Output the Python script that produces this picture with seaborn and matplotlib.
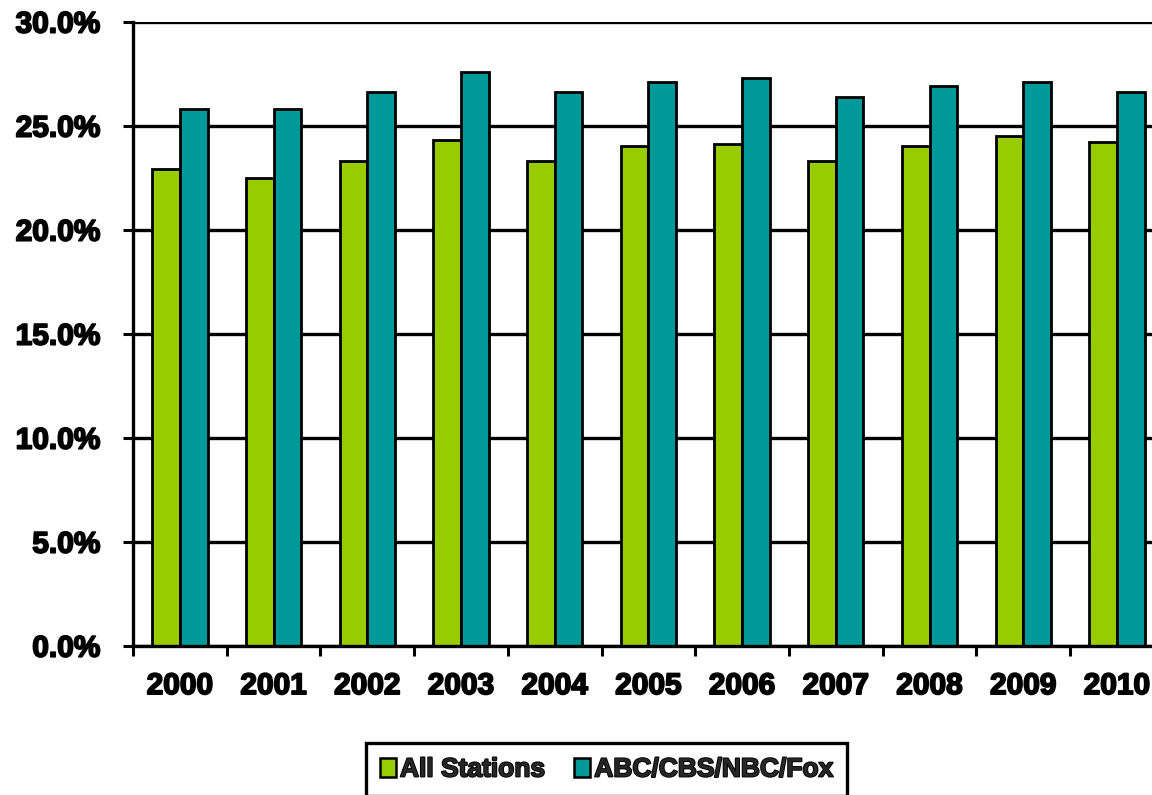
import matplotlib
matplotlib.use("Agg")
import matplotlib.pyplot as plt
import matplotlib.patheffects as pe
from matplotlib.patches import Patch
import seaborn as sns
import pandas as pd
import numpy as np

years = ["2000", "2001", "2002", "2003", "2004", "2005",
         "2006", "2007", "2008", "2009", "2010"]
all_stations = [22.9, 22.5, 23.3, 24.3, 23.3, 24.0, 24.1, 23.3, 24.0, 24.5, 24.2]
big_four = [25.8, 25.8, 26.6, 27.6, 26.6, 27.1, 27.3, 26.4, 26.9, 27.1, 26.6]
series_names = ["All Stations", "ABC/CBS/NBC/Fox"]
colors = ["#99CC00", "#009999"]

df = pd.DataFrame({
    "year": years * 2,
    "share": all_stations + big_four,
    "series": [series_names[0]] * len(years) + [series_names[1]] * len(years),
})

sns.set_style("white")
plt.rcParams["font.family"] = ["Liberation Sans", "DejaVu Sans"]
plt.rcParams["font.weight"] = "bold"

fig = plt.figure(figsize=(11.52, 7.95), dpi=100)
ax = fig.add_axes([0.1155, 0.1878, 0.8947, 0.785])

sns.barplot(data=df, x="year", y="share", hue="series", order=years,
            hue_order=series_names, palette=colors, width=0.59, gap=0,
            edgecolor="black", linewidth=2.0, saturation=1, ax=ax,
            legend=False)

ax.set_ylim(0, 30)
ax.set_xlim(-0.5, len(years) - 0.5)
yt = np.arange(0, 31, 5)
ax.set_yticks(yt)
ax.set_yticklabels([f"{v:.1f}%" for v in yt])
ax.yaxis.grid(True, color="black", linewidth=2.4)
ax.xaxis.grid(False)
ax.set_axisbelow(True)

ax.set_xlabel("")
ax.set_ylabel("")

for side in ["top", "right"]:
    ax.spines[side].set_visible(False)
for side in ["left", "bottom"]:
    ax.spines[side].set_color("black")
    ax.spines[side].set_linewidth(2.4)

fs = 21.5
heavy = [pe.withStroke(linewidth=1.3, foreground="black")]
ax.tick_params(axis="y", which="major", direction="out", length=7.5, width=2.2,
               color="black", labelsize=fs, pad=16, left=True)
ax.set_xticks(np.arange(-0.5, len(years), 1.0), minor=True)
ax.tick_params(axis="x", which="minor", direction="out", length=7.5, width=2.2,
               color="black", bottom=True)
ax.tick_params(axis="x", which="major", length=0, labelsize=fs, pad=19)
for lab in ax.get_xticklabels() + ax.get_yticklabels():
    lab.set_fontweight("bold")
    lab.set_color("black")
    lab.set_path_effects(heavy)

handles = [Patch(facecolor=c, edgecolor="black", linewidth=1.8) for c in colors]
leg = fig.legend(handles, series_names, loc="upper center",
                 bbox_to_anchor=(0.5265, 0.0654), borderaxespad=0, ncol=2,
                 frameon=True, fancybox=False, framealpha=1, edgecolor="black",
                 prop={"size": 19, "weight": "bold"},
                 handlelength=0.6, handleheight=0.7, handletextpad=0.15,
                 columnspacing=1.1, borderpad=0.55)
leg.get_frame().set_linewidth(2.4)
for t in leg.get_texts():
    t.set_path_effects(heavy)

fig.savefig("out.png", dpi=100)
